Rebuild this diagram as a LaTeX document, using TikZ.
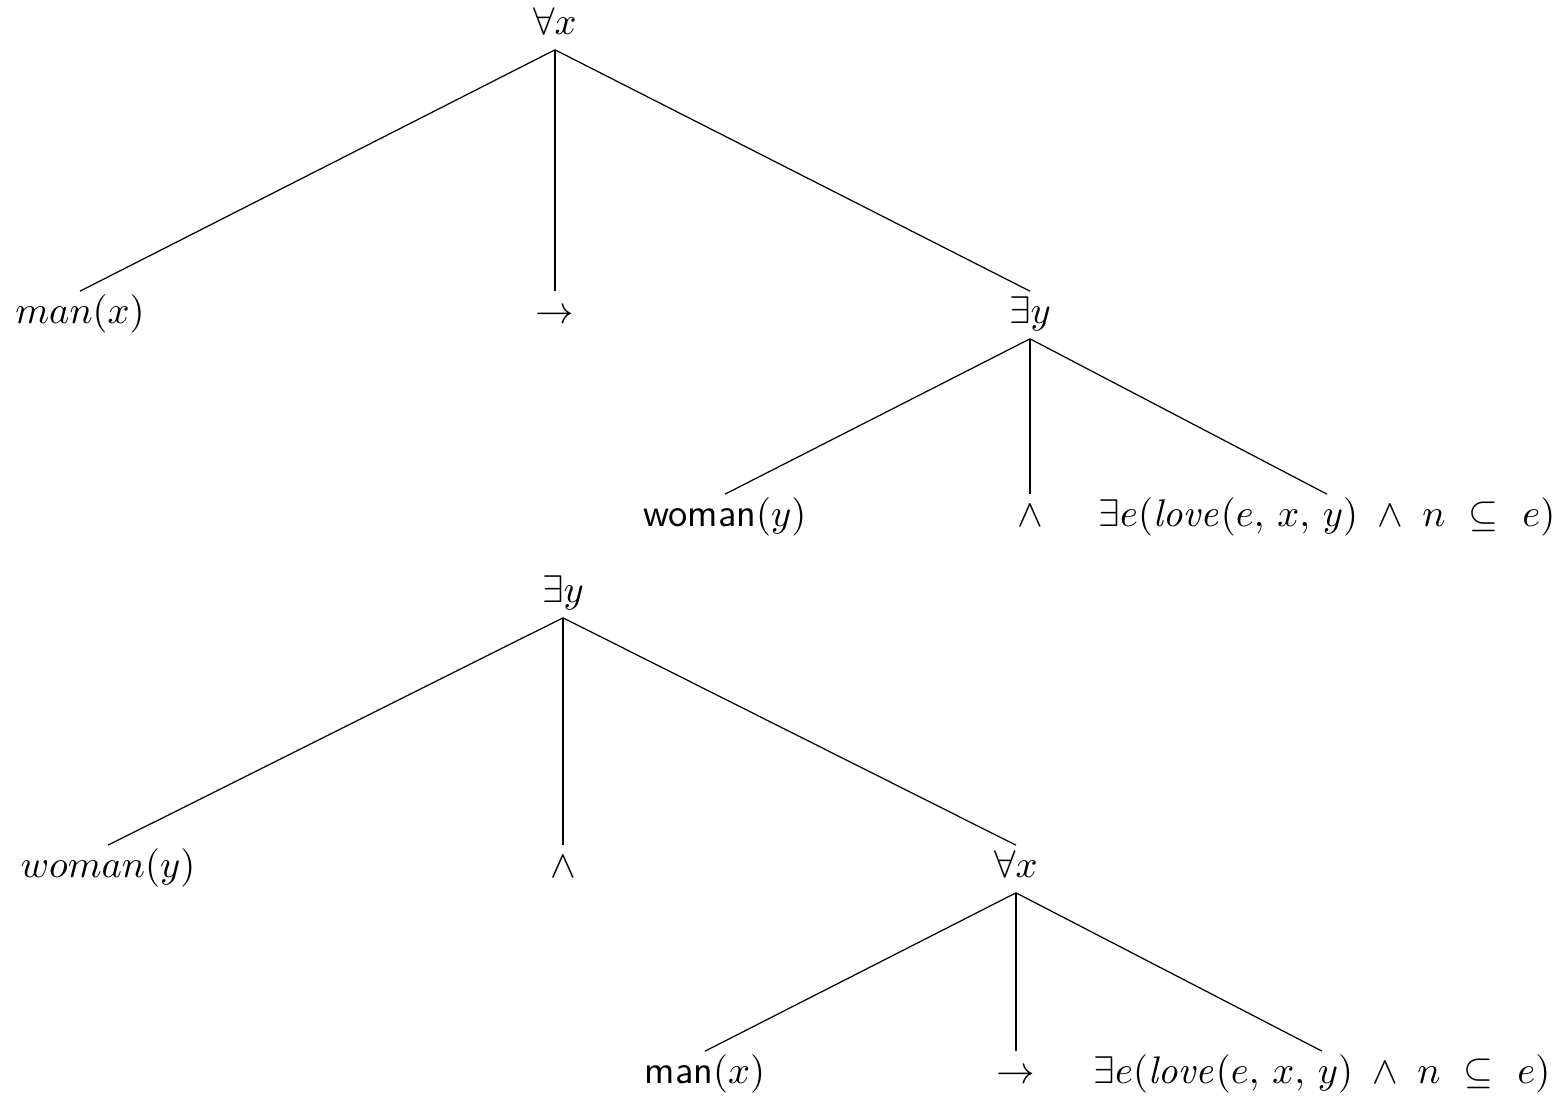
\documentclass[tikz,border=0pt]{standalone}
\usepackage{amsmath}

\begin{document}
\begin{tikzpicture}[x=0.01cm, y=-0.01cm, line width=0.35pt,
        term/.style={font=\fontsize{11.15}{13}\selectfont, inner sep=1.6pt,
          text height=0.75em, text depth=0.25em}]
      \useasboundingbox (0,0) rectangle (1565,1097);

      % reading one: forall x over exists y
      \node[term] (fa1)  at (555,26)   {$\forall x$};
      \node[term] (man1) at (80,315)   {$man(x)$};
      \node[term] (to1)  at (555,315)  {$\rightarrow$};
      \node[term] (ex1)  at (1030,315) {$\exists y$};
      \node[term] (wom1) at (725,518)  {\textsf{woman}$(y)$};
      \node[term] (and1) at (1030,518) {$\wedge$};
      \node[term] (lov1) at (1327,518) {$\exists e(\mathit{love}(e,\,x,\,y)\;\wedge\;n\ \subseteq\ e)$};

      \foreach \c in {man1,to1,ex1} \draw (fa1.south) -- (\c.north);
      \foreach \c in {wom1,and1,lov1} \draw (ex1.south) -- (\c.north);

      % reading two: exists y over forall x
      \node[term] (ex2)  at (563,594)  {$\exists y$};
      \node[term] (wom2) at (108,869)  {$woman(y)$};
      \node[term] (and2) at (563,869)  {$\wedge$};
      \node[term] (fa2)  at (1016,869) {$\forall x$};
      \node[term] (man2) at (705,1075) {\textsf{man}$(x)$};
      \node[term] (to2)  at (1016,1075) {$\rightarrow$};
      \node[term] (lov2) at (1322,1075) {$\exists e(\mathit{love}(e,\,x,\,y)\;\wedge\;n\ \subseteq\ e)$};

      \foreach \c in {wom2,and2,fa2} \draw (ex2.south) -- (\c.north);
      \foreach \c in {man2,to2,lov2} \draw (fa2.south) -- (\c.north);
    \end{tikzpicture}
\end{document}
